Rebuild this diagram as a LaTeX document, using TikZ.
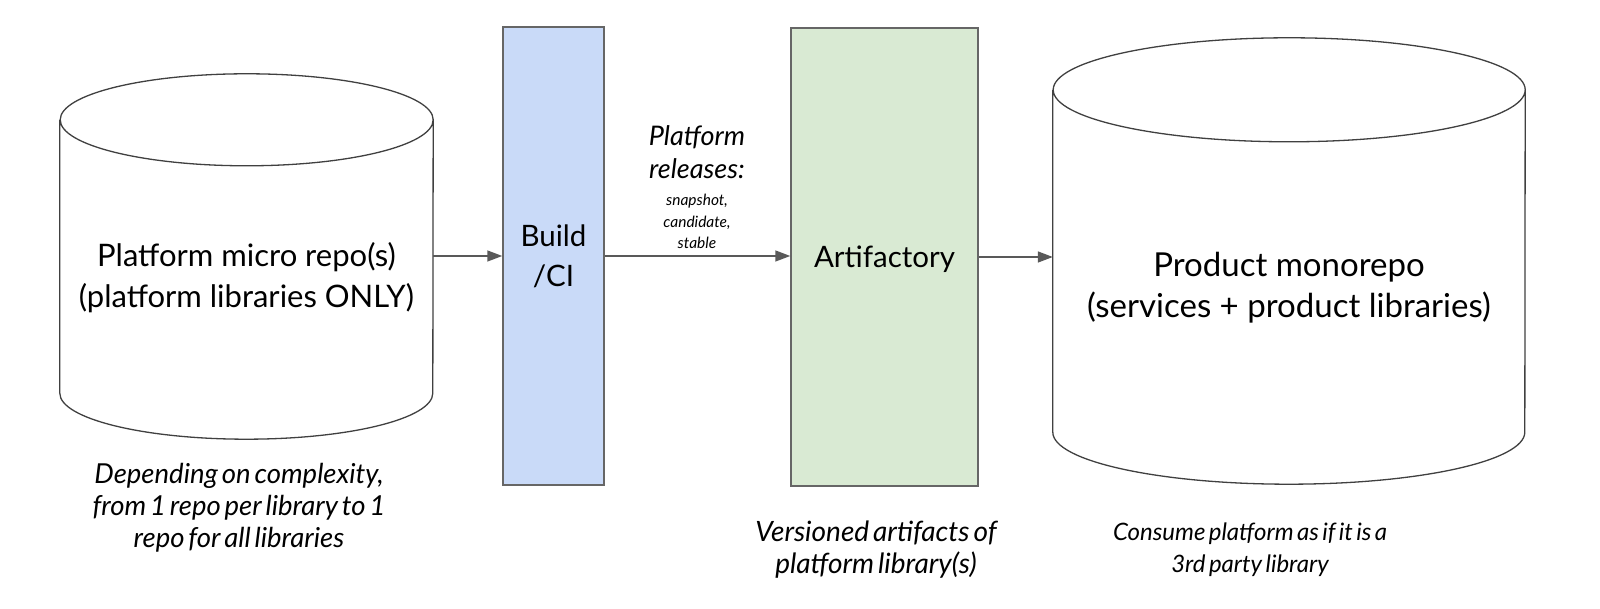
\documentclass[tikz,border=0pt]{standalone}
\usepackage{fontspec}
\setmainfont{Lato}
\newfontfamily\notefont{Lato}[WordSpace=0.6]
\usetikzlibrary{arrows.meta,calc}
\definecolor{buildblue}{HTML}{C9DAF8}
\definecolor{artgreen}{HTML}{D9EAD3}
\definecolor{edgegrey}{HTML}{666666}
\definecolor{arrgrey}{HTML}{595959}
\definecolor{cylgrey}{HTML}{404040}
\begin{document}
\begin{tikzpicture}[x=1pt,y=1pt,
  body/.style={draw=none,inner sep=0pt,minimum width=#1},
  cyl/.style={draw=cylgrey,line width=1.3pt,fill=white},
  stage/.style={draw=edgegrey,line width=1.5pt,inner sep=0pt},
  arr/.style={draw=arrgrey,line width=1.5pt,-{Triangle[length=15pt,width=11pt]}},
  cyllbl/.style={align=center,font=\fontsize{#1}{41}\selectfont},
  boxlbl/.style={align=center,font=\fontsize{29.5}{40}\selectfont},
  note/.style={align=center,font=\notefont\fontsize{#1}{32}\selectfont\itshape},
  tiny/.style={align=center,font=\fontsize{15.5}{21.5}\selectfont\itshape}
]
\useasboundingbox (0,0) rectangle (1600,609);
% nodes
\node[body=373pt,minimum height=273pt] (micro) at (246.5,352.5) {};
\node[body=472pt,minimum height=342pt] (mono) at (1289,348) {};
\node[stage,fill=buildblue,minimum width=101pt,minimum height=458pt] (build) at (553.5,353) {};
\node[stage,fill=artgreen,minimum width=187pt,minimum height=458pt] (art) at (884.5,352) {};
% cylinders
\draw[cyl] (micro.north west) -- (micro.south west)
  arc[start angle=180,end angle=360,x radius=186.5,y radius=46]
  -- (micro.north east)
  arc[start angle=0,end angle=360,x radius=186.5,y radius=46];
\draw[cyl] (mono.north west) -- (mono.south west)
  arc[start angle=180,end angle=360,x radius=236,y radius=52]
  -- (mono.north east)
  arc[start angle=0,end angle=360,x radius=236,y radius=52];
% texts
\node[cyllbl=31] (microtxt) at (246.5,331.5) {Platform micro repo(s)\\(platform libraries ONLY)};
\node[cyllbl=33] (monotxt) at (1289,321.5) {Product monorepo\\(services + product libraries)};
\node[boxlbl] (buildtxt) at (build.center) {Build\\/CI};
\node[boxlbl] (arttxt) at (884.5,350) {Artifactory};
% connectors
\draw[arr] (micro.east |- build.center) -- (build.west);
\draw[arr] (build.east) -- (build.east -| art.west);
\draw[arr] (art.east) -- (art.east -| mono.west);
% labels
\node[align=center,font=\fontsize{27}{33}\selectfont\itshape] (rel) at (697,457) {Platform\\releases:};
\node[tiny] (kinds) at (697,387.5) {snapshot,\\candidate,\\stable};
\node[note=27.5] (n1) at (239,101.5) {Depending on complexity,\\from 1 repo per library to 1\\repo for all libraries};
\node[note=28] (n2) at (876,59) {Versioned artifacts of\\platform library(s)};
\node[note=24] (n3) at (1250,59) {Consume platform as if it is a\\3rd party library};
\end{tikzpicture}
\end{document}
